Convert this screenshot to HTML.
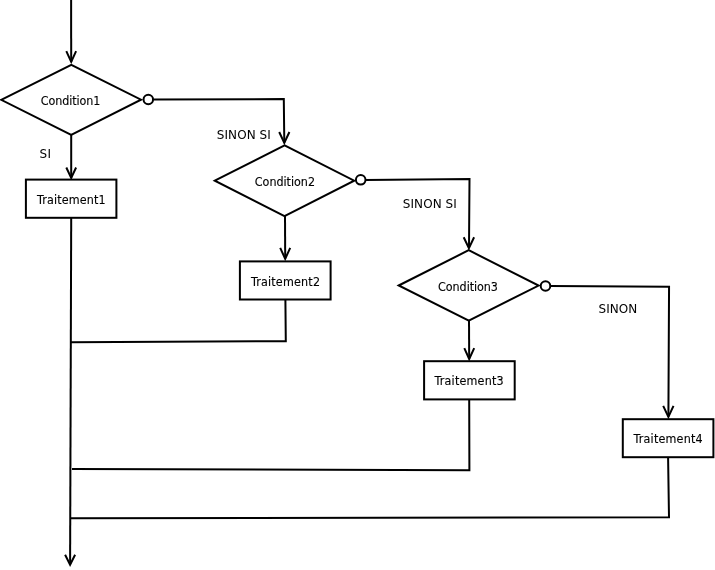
<!DOCTYPE html>
<html lang="fr">
<head>
<meta charset="utf-8">
<title>Organigramme SI / SINON SI / SINON</title>
<style>
html,body{margin:0;padding:0;background:#fff;}
body{width:715px;height:570px;overflow:hidden;position:relative;}
svg{display:block;position:absolute;left:0;top:0;will-change:transform;}
text{font-family:"DejaVu Sans Condensed","DejaVu Sans","Liberation Sans",sans-serif;font-size:12.4px;fill:#000;stroke:#000;stroke-width:.12px;}
text.c{font-family:"DejaVu Sans","Liberation Sans",sans-serif;font-size:12px;stroke:none;}
.l{fill:none;stroke:#000;stroke-width:2;stroke-linejoin:miter;stroke-linecap:butt;}
.s{fill:#fff;stroke:#000;stroke-width:2;stroke-linejoin:miter;}
</style>
</head>
<body>
<svg width="715" height="570" viewBox="0 0 715 570">

<!-- main flow line -->
<path class="l" d="M71.1 0 L71.2 62"/>
<path class="l" d="M66.3 51.1 L71.2 61.9 L76.1 51.1"/>
<path class="l" d="M71.2 134 L71.2 178"/>
<path class="l" d="M66.3 167.5 L71.2 177.9 L76.1 167.5"/>
<path class="l" d="M71.2 218 L70.1 564.5"/>
<path class="l" d="M65.1 554.8 L70.1 564.8 L75.1 554.8"/>
<!-- join lines -->
<path class="l" d="M285.4 300 L285.8 341.2 L71 342.2"/>
<path class="l" d="M469.2 400 L469.4 470.3 L72 468.9"/>
<path class="l" d="M668.1 458 L669 517.3 L71 518.2"/>
<!-- branch 1 -->
<path class="l" d="M153 99.5 L283.8 99.1 L284.3 142.5"/>
<path class="l" d="M279.2 132.0 L284.3 142.9 L289.4 132.0"/>
<!-- branch 2 -->
<path class="l" d="M365 179.9 L469.5 178.95 L469 247.5"/>
<path class="l" d="M463.7 237.2 L468.9 248.1 L474.1 237.2"/>
<!-- branch 3 -->
<path class="l" d="M550 286.1 L669.05 286.7 L668.4 416.5"/>
<path class="l" d="M663.2 405.8 L668.4 416.9 L673.5 405.8"/>
<!-- cond2 -> trait2 -->
<path class="l" d="M285.0 216 L285.2 258.5"/>
<path class="l" d="M280.2 247.9 L285.2 258.8 L290.2 247.9"/>
<!-- cond3 -> trait3 -->
<path class="l" d="M469.0 320 L469.2 358.5"/>
<path class="l" d="M464.3 348.2 L469.2 359.0 L474.2 348.2"/>
<!-- diamonds -->
<polygon class="s" points="1.2,99.8 71.3,64.95 141,99.65 71.2,134.8"/>
<polygon class="s" points="214.8,180.7 284.6,145.25 354.2,180.65 284.5,216.2"/>
<polygon class="s" points="398.7,285.5 468.7,250.2 538.6,285.6 468.8,320.7"/>
<!-- circles -->
<circle class="s" cx="148.3" cy="99.55" r="4.75"/>
<circle class="s" cx="360.7" cy="179.8" r="4.8"/>
<circle class="s" cx="545.5" cy="286" r="4.8"/>
<!-- rects -->
<rect class="s" x="25.9" y="179.6" width="90.5" height="38.2"/>
<rect class="s" x="239.9" y="261.4" width="90.7" height="38.1"/>
<rect class="s" x="424.1" y="361.2" width="90.6" height="38.2"/>
<rect class="s" x="622.8" y="419.2" width="90.6" height="38"/>
<!-- labels -->
<text x="40.7" y="104.6" textLength="59.7">Condition1</text>
<text x="254.8" y="185.7" textLength="60.2">Condition2</text>
<text x="438.1" y="290.7" textLength="59.8">Condition3</text>
<text x="37.0" y="204.0" textLength="68.6">Traitement1</text>
<text x="251.0" y="285.8" textLength="69.0">Traitement2</text>
<text x="434.6" y="384.9" textLength="69.0">Traitement3</text>
<text x="633.6" y="442.5" textLength="69.0">Traitement4</text>
<text class="c" x="39.6" y="158.3" textLength="11.4">SI</text>
<text class="c" x="216.8" y="139.0" textLength="54.0">SINON SI</text>
<text class="c" x="402.8" y="208.0" textLength="54.0">SINON SI</text>
<text class="c" x="598.6" y="313.0" textLength="38.6">SINON</text>
</svg>
</body>
</html>
